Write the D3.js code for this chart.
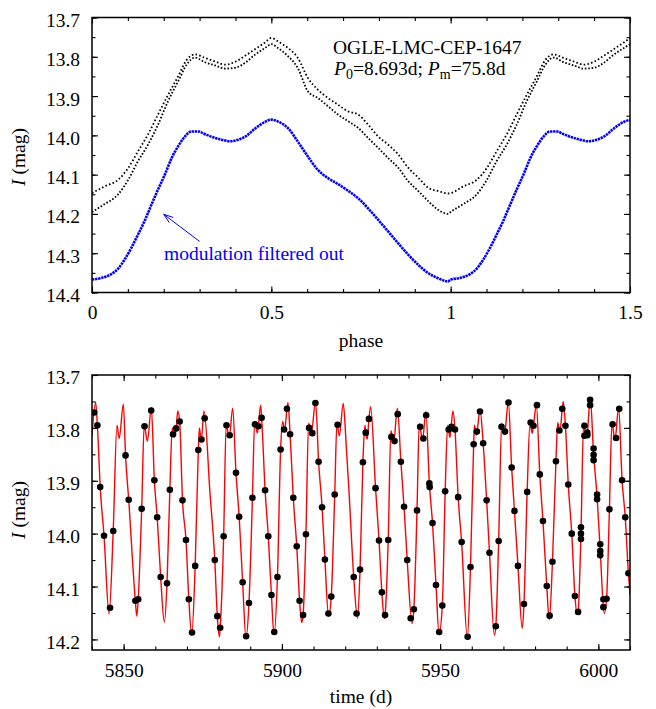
<!DOCTYPE html>
<html>
<head>
<meta charset="utf-8">
<title>OGLE-LMC-CEP-1647 light curve</title>
<script src="https://cdn.jsdelivr.net/npm/d3@7"></script>
<style>
body { margin: 0; background: #fff; }
svg text { font-family: "Liberation Serif", "Times New Roman", serif; font-size: 19.5px; fill: #000; }
</style>
</head>
<body>
<svg id="chart" width="656" height="709"></svg>
<script>

// ---- top panel: phased light curve ----
// modulation filtered out (blue), one cycle
var bluePhase = [0, 0.026, 0.054, 0.073, 0.091, 0.110, 0.128, 0.147, 0.166, 0.184, 0.203, 0.222, 0.240, 0.259, 0.277, 0.296, 0.315, 0.338, 0.361, 0.385, 0.408, 0.431, 0.454, 0.482, 0.5, 0.519, 0.547, 0.574, 0.602, 0.630, 0.658, 0.686, 0.714, 0.742, 0.770, 0.798, 0.826, 0.854, 0.882, 0.910, 0.938, 0.966, 0.993];
var blueMag = [14.367, 14.363, 14.353, 14.339, 14.316, 14.286, 14.253, 14.217, 14.176, 14.138, 14.100, 14.058, 14.028, 14.003, 13.990, 13.990, 13.997, 14.005, 14.011, 14.015, 14.011, 14.001, 13.983, 13.966, 13.960, 13.965, 13.982, 14.016, 14.054, 14.088, 14.109, 14.124, 14.141, 14.160, 14.186, 14.215, 14.245, 14.275, 14.304, 14.330, 14.351, 14.364, 14.372];

// observed (black) band: bright and faint edge of the scatter
var blackPhase = [0, 0.035, 0.073, 0.101, 0.128, 0.156, 0.184, 0.212, 0.240, 0.264, 0.287, 0.315, 0.343, 0.371, 0.399, 0.426, 0.454, 0.482, 0.5, 0.519, 0.547, 0.574, 0.602, 0.630, 0.658, 0.686, 0.714, 0.742, 0.770, 0.798, 0.826, 0.854, 0.882, 0.910, 0.938, 0.966, 0.993];
var blackHi = [14.147, 14.130, 14.113, 14.083, 14.041, 13.998, 13.947, 13.897, 13.850, 13.808, 13.794, 13.803, 13.812, 13.820, 13.813, 13.798, 13.781, 13.764, 13.752, 13.761, 13.778, 13.803, 13.854, 13.884, 13.905, 13.922, 13.939, 13.947, 13.973, 14.003, 14.024, 14.049, 14.083, 14.108, 14.134, 14.142, 14.148];
var blackLo = [14.195, 14.175, 14.150, 14.113, 14.066, 14.024, 13.973, 13.913, 13.863, 13.820, 13.802, 13.814, 13.822, 13.830, 13.828, 13.816, 13.795, 13.778, 13.768, 13.778, 13.799, 13.829, 13.888, 13.905, 13.926, 13.947, 13.964, 13.981, 14.007, 14.032, 14.058, 14.083, 14.117, 14.142, 14.168, 14.190, 14.200];

var phaseTicks = [0, 0.5, 1, 1.5];
var magTicksTop = [13.7, 13.8, 13.9, 14.0, 14.1, 14.2, 14.3, 14.4];

// ---- bottom panel: time series ----
var obsTime = [5840.7, 5841.7, 5842.6, 5843.8, 5845.7, 5846.7, 5850.6, 5851.6, 5853.7, 5854.6, 5855.7, 5856.6, 5858.7, 5859.7, 5860.6, 5861.7, 5863.7, 5864.6, 5865.6, 5866.6, 5867.7, 5868.6, 5869.7, 5870.6, 5871.6, 5872.6, 5873.6, 5874.6, 5875.6, 5878.8, 5879.6, 5880.5, 5881.6, 5882.5, 5883.5, 5885.5, 5886.5, 5887.6, 5888.7, 5889.6, 5890.7, 5891.5, 5892.6, 5893.6, 5894.7, 5895.7, 5896.7, 5897.6, 5898.6, 5899.6, 5900.7, 5901.6, 5902.6, 5903.6, 5904.7, 5905.6, 5906.7, 5907.6, 5908.6, 5909.6, 5910.6, 5911.6, 5912.7, 5913.6, 5914.7, 5915.6, 5916.7, 5917.6, 5922.7, 5923.6, 5924.7, 5925.6, 5926.5, 5927.5, 5929.6, 5930.7, 5931.6, 5932.6, 5933.6, 5934.6, 5935.6, 5936.6, 5937.6, 5938.6, 5939.6, 5940.7, 5941.7, 5942.7, 5943.7, 5944.7, 5945.6, 5946.6, 5946.7, 5947.6, 5948.7, 5949.7, 5950.7, 5951.6, 5952.7, 5953.6, 5954.7, 5955.7, 5956.8, 5958.7, 5959.6, 5960.6, 5961.6, 5962.6, 5963.6, 5964.7, 5965.6, 5967.6, 5968.5, 5969.4, 5970.5, 5971.6, 5972.6, 5973.5, 5974.6, 5976.5, 5977.5, 5978.6, 5979.5, 5980.6, 5981.5, 5982.5, 5983.7, 5984.6, 5985.5, 5986.6, 5987.7, 5988.6, 5989.6, 5990.5, 5991.6, 5992.6, 5993.6, 5994.5, 5994.5, 5994.5, 5995.6, 5995.6, 5996.5, 5996.5, 5997.4, 5997.4, 5998.5, 5998.5, 5998.5, 5999.6, 5999.6, 6000.6, 6000.6, 6000.6, 6001.6, 6001.6, 6002.6, 6003.5, 6004.5, 6005.6, 6006.6, 6007.5, 6008.5, 6009.5];
var obsMag = [13.771, 13.795, 13.912, 14.004, 14.140, 13.995, 13.852, 13.936, 14.127, 14.124, 13.953, 13.797, 13.767, 13.899, 13.969, 14.082, 14.094, 13.917, 13.812, 13.801, 13.788, 13.937, 14.012, 14.124, 14.187, 14.061, 13.842, 13.822, 13.782, 14.050, 14.156, 14.178, 14.005, 13.795, 13.814, 13.885, 13.968, 14.092, 14.194, 14.131, 13.932, 13.793, 13.797, 13.781, 13.918, 14.005, 14.116, 14.186, 14.082, 13.841, 13.803, 13.764, 13.812, 13.932, 14.024, 14.127, 14.154, 14.001, 13.800, 13.810, 13.753, 13.864, 13.950, 14.049, 14.151, 14.119, 13.926, 13.794, 14.082, 14.151, 14.068, 13.865, 13.809, 13.783, 13.914, 14.013, 14.111, 14.154, 14.012, 13.817, 13.825, 13.774, 13.864, 13.949, 14.050, 14.160, 14.143, 13.956, 13.798, 13.820, 13.776, 13.905, 13.912, 13.980, 14.097, 14.186, 14.136, 13.920, 13.803, 13.798, 13.803, 13.931, 14.016, 14.195, 14.063, 13.831, 13.807, 13.769, 13.829, 13.937, 14.036, 14.175, 14.014, 13.798, 13.807, 13.752, 13.875, 13.957, 14.061, 14.133, 13.921, 13.790, 13.796, 13.757, 13.888, 13.976, 14.099, 14.155, 14.053, 13.863, 13.805, 13.764, 13.796, 13.907, 14.000, 14.118, 14.148, 14.010, 14.000, 13.988, 13.796, 13.815, 13.809, 13.814, 13.757, 13.747, 13.839, 13.851, 13.861, 13.926, 13.935, 14.020, 14.033, 14.041, 14.124, 14.139, 14.123, 13.954, 13.793, 13.819, 13.764, 13.899, 13.969, 14.075];

// model curve (red): vertices (extrema + points on the slopes)
var modelTime = [5840.0, 5841.15, 5841.7, 5842.6, 5843.8, 5845.4, 5846.7, 5847.9, 5848.6, 5849.9, 5850.6, 5851.6, 5853.7, 5854.15, 5854.6, 5855.7, 5856.5, 5857.5, 5858.75, 5859.7, 5860.6, 5861.7, 5862.85, 5863.7, 5864.6, 5865.35, 5865.95, 5866.6, 5867.1, 5867.7, 5868.6, 5869.7, 5870.6, 5871.5, 5872.6, 5873.6, 5873.95, 5874.5, 5875.4, 5877.3, 5878.8, 5879.6, 5880.25, 5880.5, 5881.6, 5882.4, 5883.4, 5884.45, 5885.5, 5886.5, 5887.6, 5888.65, 5889.6, 5890.7, 5891.4, 5892.25, 5893.3, 5893.6, 5894.7, 5895.7, 5896.7, 5897.5, 5898.6, 5899.6, 5900.25, 5900.85, 5901.9, 5902.6, 5903.6, 5904.7, 5905.6, 5906.25, 5906.7, 5907.6, 5908.45, 5909.3, 5910.65, 5911.6, 5912.7, 5913.6, 5914.75, 5915.6, 5916.7, 5917.4, 5918.15, 5919.4, 5920.3, 5921.3, 5922.7, 5923.9, 5924.7, 5925.6, 5926.25, 5926.5, 5927.0, 5927.5, 5928.05, 5929.6, 5930.7, 5931.6, 5932.35, 5932.6, 5933.6, 5934.45, 5935.3, 5936.5, 5937.6, 5938.6, 5939.6, 5941.15, 5941.7, 5942.7, 5943.4, 5944.45, 5945.5, 5946.6, 5947.6, 5948.7, 5949.65, 5950.7, 5951.6, 5952.4, 5953.1, 5954.05, 5954.7, 5955.7, 5956.8, 5958.6, 5959.6, 5960.6, 5960.85, 5961.45, 5962.6, 5963.6, 5964.7, 5965.6, 5967.15, 5967.6, 5968.5, 5969.45, 5970.15, 5970.5, 5971.55, 5972.6, 5973.5, 5974.6, 5975.95, 5976.5, 5977.5, 5978.4, 5979.1, 5979.5, 5980.4, 5981.5, 5982.5, 5983.7, 5984.5, 5985.5, 5986.6, 5987.15, 5987.85, 5988.9, 5989.6, 5990.5, 5991.6, 5992.6, 5993.25, 5993.6, 5994.5, 5995.35, 5996.1, 5996.5, 5997.45, 5998.5, 5999.6, 6000.6, 6001.85, 6002.6, 6003.5, 6004.3, 6005.25, 6006.4, 6007.5, 6008.5, 6009.5, 6010.0];
var modelMag = [13.815, 13.752, 13.795, 13.912, 14.004, 14.152, 13.995, 13.795, 13.820, 13.755, 13.852, 13.936, 14.127, 14.156, 14.124, 13.953, 13.795, 13.825, 13.762, 13.899, 13.969, 14.082, 14.167, 14.094, 13.917, 13.800, 13.818, 13.801, 13.768, 13.788, 13.937, 14.012, 14.124, 14.192, 14.061, 13.842, 13.800, 13.825, 13.768, 13.925, 14.050, 14.156, 14.195, 14.178, 14.005, 13.795, 13.817, 13.763, 13.885, 13.968, 14.092, 14.197, 14.131, 13.932, 13.788, 13.810, 13.757, 13.781, 13.918, 14.005, 14.116, 14.191, 14.082, 13.841, 13.788, 13.804, 13.752, 13.812, 13.932, 14.024, 14.127, 14.168, 14.154, 14.001, 13.791, 13.810, 13.750, 13.864, 13.950, 14.049, 14.156, 14.119, 13.926, 13.791, 13.815, 13.754, 13.830, 13.930, 14.082, 14.160, 14.068, 13.865, 13.795, 13.809, 13.821, 13.783, 13.760, 13.914, 14.013, 14.111, 14.160, 14.154, 14.012, 13.805, 13.828, 13.763, 13.864, 13.949, 14.050, 14.170, 14.143, 13.956, 13.793, 13.823, 13.769, 13.905, 13.980, 14.097, 14.189, 14.136, 13.920, 13.795, 13.818, 13.768, 13.803, 13.931, 14.016, 14.197, 14.063, 13.831, 13.795, 13.814, 13.766, 13.829, 13.937, 14.036, 14.192, 14.175, 14.014, 13.791, 13.812, 13.807, 13.750, 13.875, 13.957, 14.061, 14.179, 14.133, 13.921, 13.791, 13.810, 13.796, 13.756, 13.888, 13.976, 14.099, 14.163, 14.053, 13.863, 13.790, 13.807, 13.750, 13.796, 13.907, 14.000, 14.118, 14.151, 14.148, 14.000, 13.790, 13.817, 13.810, 13.744, 13.850, 13.930, 14.033, 14.151, 14.123, 13.954, 13.790, 13.823, 13.762, 13.899, 13.969, 14.075, 14.115];

var timeTicks = [5850, 5900, 5950, 6000];
var magTicksBottom = [13.7, 13.8, 13.9, 14.0, 14.1, 14.2];

//set up chart
var svg = d3.select("#chart");
var left = 92, right = 630;

var xPhase = d3.scaleLinear().domain([0, 1.5]).range([left, right]);
var yTop = d3.scaleLinear().domain([13.7, 14.4]).range([17.5, 292.5]);

var xTime = d3.scaleLinear().domain([5840, 6010]).range([left, right]);
var yBot = d3.scaleLinear().domain([13.7, 14.22]).range([375, 650]);

// ticks on all four sides, pointing inwards
function drawFrame(x, y, xMajor, xMinor, yMajor, yMinor, xFmt, yFmt){
	var x0 = x.range()[0], x1 = x.range()[1];
	var y0 = y.range()[0], y1 = y.range()[1];
	var g = svg.append("g");

	function put(axis, tx, ty){
		var a = g.append("g").attr("transform", "translate(" + tx + "," + ty + ")").call(axis);
		a.select(".domain").remove();
		a.selectAll("line").attr("stroke", "#000").attr("stroke-width", 1.1);
		return a;
	}
	put(d3.axisBottom(x).tickValues(xMinor).tickSize(-3.5).tickFormat(""), 0, y1);
	put(d3.axisTop(x).tickValues(xMinor).tickSize(-3.5).tickFormat(""), 0, y0);
	put(d3.axisLeft(y).tickValues(yMinor).tickSize(-3.5).tickFormat(""), x0, 0);
	put(d3.axisRight(y).tickValues(yMinor).tickSize(-3.5).tickFormat(""), x1, 0);
	put(d3.axisTop(x).tickValues(xMajor).tickSize(-6).tickFormat(""), 0, y0);
	put(d3.axisRight(y).tickValues(yMajor).tickSize(-6).tickFormat(""), x1, 0);

	var bx = put(d3.axisBottom(x).tickValues(xMajor).tickSize(-6).tickPadding(13).tickFormat(xFmt), 0, y1);
	var ly = put(d3.axisLeft(y).tickValues(yMajor).tickSize(-6).tickPadding(12).tickFormat(yFmt), x0, 0);
	bx.selectAll("text").attr("font-family", null).attr("font-size", null);
	ly.selectAll("text").attr("font-family", null).attr("font-size", null).attr("dy", "0.46em");

	g.append("rect")
		.attr("x", x0).attr("y", y0)
		.attr("width", x1 - x0).attr("height", y1 - y0)
		.attr("fill", "none").attr("stroke", "#000").attr("stroke-width", 1.5);
}

var minorPhase = d3.range(0, 16).map(function(i){ return i / 10; });
var minorMagTop = d3.range(0, 15).map(function(i){ return 13.7 + i * 0.05; });
var minorTime = d3.range(0, 18).map(function(i){ return 5840 + i * 10; });
var minorMagBot = d3.range(0, 11).map(function(i){ return 13.7 + i * 0.05; });

// clip paths
var defs = svg.append("defs");
defs.append("clipPath").attr("id", "clipTop").append("rect")
	.attr("x", left).attr("y", 17.5).attr("width", right - left).attr("height", 275);
defs.append("clipPath").attr("id", "clipBot").append("rect")
	.attr("x", left).attr("y", 375).attr("width", right - left).attr("height", 275);

// ---------- top panel ----------
function twoCycles(ph, mag){
	var pts = ph.map(function(p, i){ return [p, mag[i]]; });
	var next = pts.filter(function(d){ return d[0] + 1 <= 1.5; })
		.map(function(d){ return [d[0] + 1, d[1]]; });
	return pts.concat(next);
}

var phaseLine = d3.line()
	.x(function(d){ return xPhase(d[0]); })
	.y(function(d){ return yTop(d[1]); })
	.curve(d3.curveMonotoneX);

var topG = svg.append("g").attr("clip-path", "url(#clipTop)");

topG.append("path")
	.datum(twoCycles(bluePhase, blueMag))
	.attr("d", phaseLine)
	.attr("fill", "none")
	.attr("stroke", "#0000ff")
	.attr("stroke-width", 2.6)
	.attr("stroke-dasharray", "2.4,0.7");

[blackHi, blackLo].forEach(function(track, k){
	topG.append("path")
		.datum(twoCycles(blackPhase, track))
		.attr("d", phaseLine)
		.attr("fill", "none")
		.attr("stroke", "#000")
		.attr("stroke-width", 1.8)
		.attr("stroke-dasharray", k === 0 ? "1.6,2.2" : "1.6,1.8");
});

drawFrame(xPhase, yTop, phaseTicks, minorPhase, magTicksTop, minorMagTop,
	d3.format(""), d3.format(".1f"));

// labels
svg.append("text")
	.attr("x", (left + right) / 2).attr("y", 347)
	.attr("text-anchor", "middle")
	.text("phase");

function magLabel(cy){
	var t = svg.append("text")
		.attr("transform", "translate(25," + cy + ") rotate(-90)")
		.attr("text-anchor", "middle");
	t.append("tspan").style("font-style", "italic").text("I");
	t.append("tspan").text(" (mag)");
}
magLabel(157);
magLabel(510);

svg.append("text")
	.attr("x", 333).attr("y", 53.5)
	.text("OGLE-LMC-CEP-1647");

var per = svg.append("text").attr("x", 334).attr("y", 74.5);
per.append("tspan").style("font-style", "italic").text("P");
per.append("tspan").style("font-size", "14px").attr("dy", 4.5).text("0");
per.append("tspan").attr("dy", -4.5).text("=8.693d; ");
per.append("tspan").style("font-style", "italic").text("P");
per.append("tspan").style("font-size", "14px").attr("dy", 4.5).text("m");
per.append("tspan").attr("dy", -4.5).text("=75.8d");

// annotation arrow and text
var tail = [xPhase(0.300), yTop(14.270)];
var tip = [xPhase(0.200), yTop(14.201)];
var ang = Math.atan2(tail[1] - tip[1], tail[0] - tip[0]);
var arrow = svg.append("g").attr("stroke", "#0000ff").attr("stroke-width", 1).attr("fill", "none");
arrow.append("line")
	.attr("x1", tail[0]).attr("y1", tail[1])
	.attr("x2", tip[0]).attr("y2", tip[1]);
[-0.33, 0.33].forEach(function(da){
	arrow.append("line")
		.attr("x1", tip[0]).attr("y1", tip[1])
		.attr("x2", tip[0] + 10 * Math.cos(ang + da))
		.attr("y2", tip[1] + 10 * Math.sin(ang + da));
});

svg.append("text")
	.attr("x", 164).attr("y", 259.5)
	.style("fill", "#0000ff")
	.text("modulation filtered out");

// ---------- bottom panel ----------
var botG = svg.append("g").attr("clip-path", "url(#clipBot)");

var model = modelTime.map(function(t, i){ return [t, modelMag[i]]; });
var timeLine = d3.line()
	.x(function(d){ return xTime(d[0]); })
	.y(function(d){ return yBot(d[1]); })
	.curve(d3.curveMonotoneX);

botG.append("path")
	.datum(model)
	.attr("d", timeLine)
	.attr("fill", "none")
	.attr("stroke", "#ff0000")
	.attr("stroke-width", 1.4);

var obs = obsTime.map(function(t, i){ return {t: t, m: obsMag[i]}; });
botG.selectAll(".obs")
	.data(obs)
	.enter()
	.append("circle")
	.attr("class", "obs")
	.attr("cx", function(d){ return xTime(d.t); })
	.attr("cy", function(d){ return yBot(d.m); })
	.attr("r", 3.3)
	.attr("fill", "#000");

drawFrame(xTime, yBot, timeTicks, minorTime, magTicksBottom, minorMagBot,
	d3.format("d"), d3.format(".1f"));

svg.append("text")
	.attr("x", (left + right) / 2).attr("y", 703)
	.attr("text-anchor", "middle")
	.text("time (d)");

</script>
</body>
</html>
